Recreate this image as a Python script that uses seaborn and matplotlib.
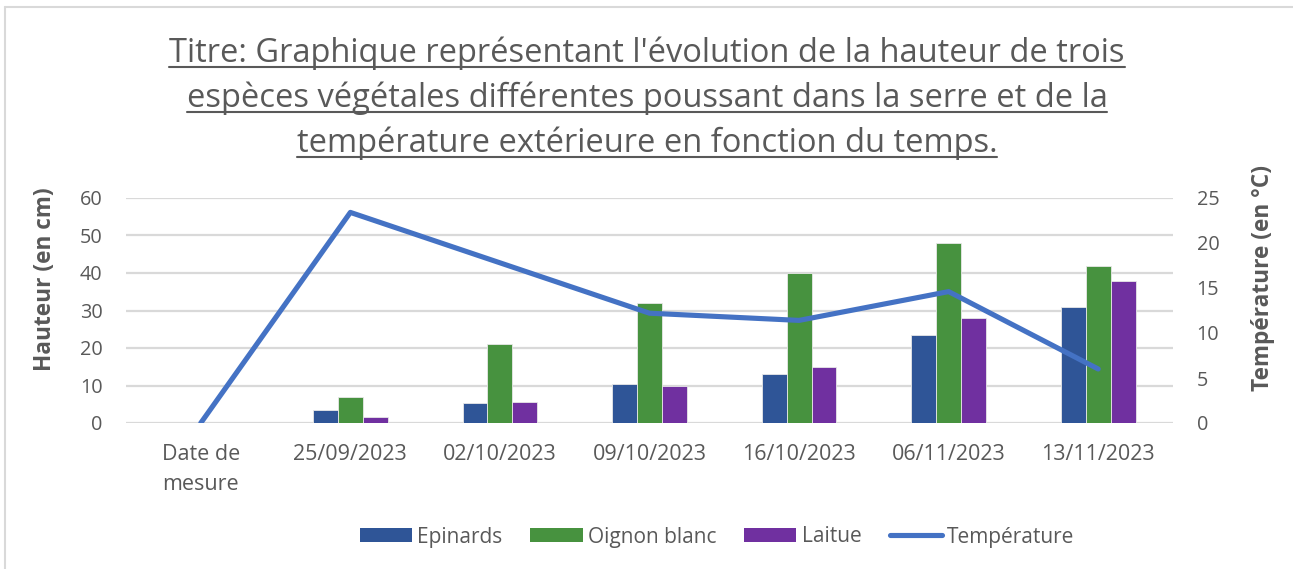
import numpy as np
import pandas as pd
import matplotlib
matplotlib.use("Agg")
import matplotlib.pyplot as plt
from matplotlib.patches import Patch
from matplotlib.lines import Line2D
import seaborn as sns

# ---------------- data ----------------
categories = ["Date de\nmesure", "25/09/2023", "02/10/2023", "09/10/2023",
              "16/10/2023", "06/11/2023", "13/11/2023"]
epinards = [np.nan, 3.5, 5.3, 10.5, 13, 23.5, 31]
oignon_blanc = [np.nan, 7, 21, 32, 40, 48, 42]
laitue = [np.nan, 1.5, 5.5, 10, 15, 28, 38]
temperature = [0, 23.4, 17.8, 12.2, 11.4, 14.6, 6.0]
series_names = ["Epinards", "Oignon blanc", "Laitue"]
line_name = "Température"
title_lines = [
    "Titre: Graphique représentant l'évolution de la hauteur de trois",
    "espèces végétales différentes poussant dans la serre et de la",
    "température extérieure en fonction du temps.",
]
left_label = "Hauteur (en cm)"
right_label = "Température (en °C)"

colors = {"Epinards": "#2F5597", "Oignon blanc": "#47923F", "Laitue": "#7030A0"}
line_color = "#4472C4"
text_color = "#595959"
grid_color = "#D9D9D9"

df = pd.DataFrame({
    "date": categories * 3,
    "espece": sum([[n] * len(categories) for n in series_names], []),
    "hauteur": epinards + oignon_blanc + laitue,
}).dropna()

# ---------------- style ----------------
sns.set_theme(style="white")
plt.rcParams["font.family"] = ["Open Sans", "DejaVu Sans"]

W, H = 1293, 569
fig = plt.figure(figsize=(W / 100, H / 100), dpi=100)
fig.patch.set_facecolor("white")

L, R, T, B = 126, 1173, 198, 423
ax = fig.add_axes([L / W, 1 - B / H, (R - L) / W, (B - T) / H])

sns.barplot(data=df, x="date", y="hauteur", hue="espece", order=categories,
            hue_order=series_names, palette=colors, width=0.5, saturation=1,
            errorbar=None, edgecolor="#E8E8E8", linewidth=0.6, legend=False, ax=ax)

ax.set_ylim(0, 60)
ax.set_yticks(np.arange(0, 61, 10))
ax.set_xlim(-0.5, len(categories) - 0.5)
ax.yaxis.grid(True, color=grid_color, lw=1.6)
ax.set_axisbelow(True)
for s in ax.spines.values():
    s.set_visible(False)
ax.set_xlabel("")
ax.set_ylabel("")
ax.tick_params(axis="x", length=0, pad=15, labelsize=15.5, labelcolor=text_color)
ax.tick_params(axis="y", length=0, pad=17, labelsize=14.3, labelcolor=text_color)
for lab in ax.get_xticklabels():
    lab.set_linespacing(1.6)

ax2 = ax.twinx()
sns.lineplot(x=np.arange(len(categories)), y=temperature, ax=ax2, color=line_color,
             lw=3.7, sort=False)
for ln in ax2.get_lines():
    ln.set_solid_capstyle("round")
    ln.set_solid_joinstyle("round")
ax2.set_ylim(0, 25)
ax2.set_yticks(np.arange(0, 26, 5))
ax2.grid(False)
for s in ax2.spines.values():
    s.set_visible(False)
ax2.set_ylabel("")
ax2.tick_params(axis="y", length=0, pad=17, labelsize=14.3, labelcolor=text_color)

# axis titles
fig.text(45 / W, 1 - 279 / H, left_label, rotation=90, ha="center", va="center",
         fontsize=16.3, fontweight="bold", color=text_color)
fig.text(1263 / W, 1 - 278 / H, right_label, rotation=90, ha="center", va="center",
         fontsize=16.3, fontweight="bold", color=text_color)

# title, underlined
baselines = [62, 107, 152]
title_texts = []
for line, yb in zip(title_lines, baselines):
    t = fig.text(647 / W, 1 - yb / H, line, ha="center", va="baseline",
                 fontsize=23.5, color=text_color)
    title_texts.append(t)
fig.canvas.draw()
renderer = fig.canvas.get_renderer()
for t, yb in zip(title_texts, baselines):
    bb = t.get_window_extent(renderer)
    yu = 1 - (yb + 4.5) / H
    fig.add_artist(Line2D([bb.x0 / W, bb.x1 / W], [yu, yu], transform=fig.transFigure,
                          color=text_color, lw=1.5))

# legend
handles = [Patch(facecolor=colors[n], edgecolor="none") for n in series_names]
handles.append(Line2D([0], [0], color=line_color, lw=3.7, solid_capstyle="round"))
fig.legend(handles, series_names + [line_name], loc="center",
           bbox_to_anchor=(717 / W, 1 - 537 / H), ncol=4, frameon=False,
           fontsize=15, labelcolor=text_color, handlelength=2.5, handleheight=0.67,
           handletextpad=0.25, columnspacing=1.35)

# chart border (light gray, top and left visible)
fig.add_artist(Line2D([5 / W, 1.0], [1 - 7 / H, 1 - 7 / H], transform=fig.transFigure,
                      color=grid_color, lw=1.5))
fig.add_artist(Line2D([5 / W, 5 / W], [0, 1 - 7 / H], transform=fig.transFigure,
                      color=grid_color, lw=1.5))

fig.savefig("out.png", dpi=100)
